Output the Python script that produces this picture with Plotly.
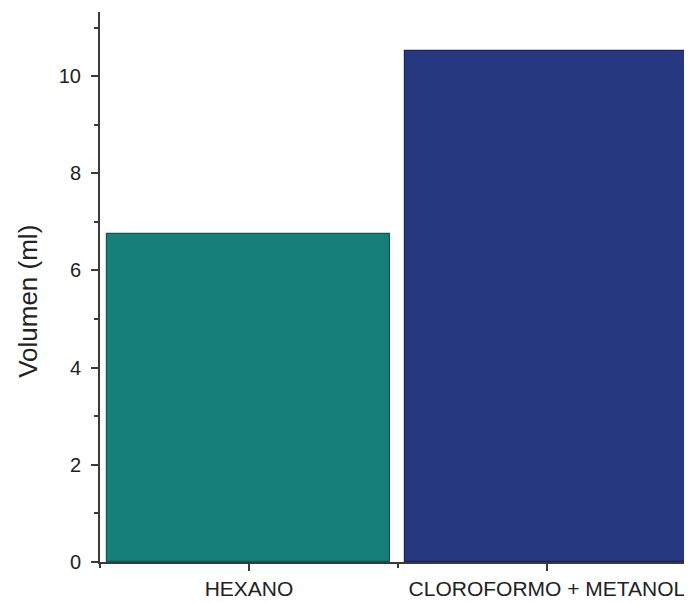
import plotly.graph_objects as go

categories = ["HEXANO", "CLOROFORMO + METANOL"]
volumes = [6.75, 10.52]
bar_colors = ["#177F79", "#26387F"]
edge_colors = ["#0E5753", "#18245C"]
y_ticks = [0, 2, 4, 6, 8, 10]

x_pos = list(range(len(categories)))

fig = go.Figure()
fig.add_trace(go.Bar(
    x=x_pos, y=volumes, width=0.95,
    marker=dict(color=bar_colors, line=dict(color=edge_colors, width=1.2)),
    showlegend=False,
))

axis_color = "#3a3a3a"
text_color = "#222222"
font_family = "Liberation Sans, Arial, sans-serif"

fig.update_layout(
    width=684, height=595,
    margin=dict(l=92, r=0, t=4, b=41),
    plot_bgcolor="white", paper_bgcolor="white",
    font=dict(family=font_family, color=text_color),
    bargap=0,
    xaxis=dict(
        range=[-0.5, 1.487],
        tickmode="array", tickvals=x_pos, ticktext=categories,
        ticks="outside", ticklen=7, tickwidth=1.5, tickcolor=axis_color,
        showline=True, linecolor=axis_color, linewidth=2,
        showgrid=False, zeroline=False,
        tickfont=dict(size=21, color=text_color),
        minor=dict(tickmode="array", tickvals=[-0.5, 0.5, 1.5], ticks="outside",
                   ticklen=4, tickwidth=1.5, tickcolor=axis_color),
    ),
    yaxis=dict(
        range=[0, 11.32],
        tickmode="array", tickvals=y_ticks,
        ticks="outside", ticklen=7, tickwidth=1.5, tickcolor=axis_color,
        showline=True, linecolor=axis_color, linewidth=2,
        showgrid=False, zeroline=False,
        tickfont=dict(size=20, color=text_color),
        ticklabelstandoff=6,
        minor=dict(tickmode="array", tickvals=[1, 3, 5, 7, 9, 11], ticks="outside",
                   ticklen=4, tickwidth=1.5, tickcolor=axis_color),
    ),
    annotations=[dict(
        text="Volumen (ml)", textangle=-90,
        xref="paper", yref="paper", x=0, y=0.473,
        xanchor="center", yanchor="middle",
        xshift=-72, showarrow=False,
        font=dict(size=26, color=text_color, family=font_family),
    )],
)

fig.write_html("out.html")
